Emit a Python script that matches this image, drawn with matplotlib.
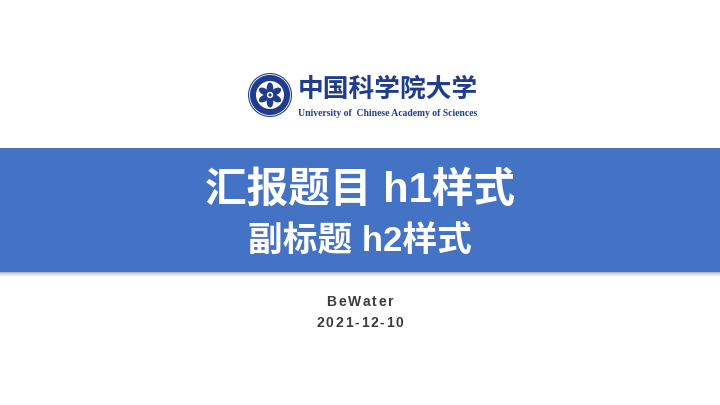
import math
import matplotlib.pyplot as plt
from matplotlib.patches import Rectangle, Circle, Ellipse
from matplotlib.textpath import TextPath
from matplotlib.font_manager import FontProperties

# slide texts
title = "汇报题目 h1样式"
subtitle = "副标题 h2样式"
author = "BeWater"
date = "2021-12-10"
logo_cn = "中国科学院大学"
logo_en = "University of  Chinese Academy of Sciences"

band_color = "#4472c4"
logo_color = "#1f3c8f"
text_gray = "#3a3a3a"

plt.rcParams['font.family'] = ['Liberation Sans', 'Noto Sans CJK SC', 'DejaVu Sans']

fig = plt.figure(figsize=(7.2, 4.05), dpi=100)
ax = fig.add_axes([0, 0, 1, 1])
ax.set_xlim(0, 720)
ax.set_ylim(405, 0)
ax.axis('off')


def spaced_text(x, y, s, size, spacing, **kw):
    # matplotlib has no letter-spacing, so lay out the glyphs one by one
    fp = FontProperties(family='Liberation Sans', weight='bold', size=size)
    bar = TextPath((0, 0), "|", prop=fp).vertices[:, 0].max()
    adv = []
    for c in s:
        w = TextPath((0, 0), c + "|", prop=fp).vertices[:, 0].max() - bar
        adv.append(w * 100 / 72.0)
    total = sum(adv) + spacing * (len(s) - 1)
    cx = x - total / 2
    for c, a in zip(s, adv):
        ax.text(cx, y, c, fontproperties=fp, ha='left', va='center', **kw)
        cx += a + spacing


# band with a soft shadow under it
shadow = ["#b8b8b8", "#cfcfcf", "#e0e0e0", "#eeeeee", "#f7f7f7"]
for i, col in enumerate(shadow):
    ax.add_patch(Rectangle((0, 272 + i), 720, 1, color=col, lw=0))
ax.add_patch(Rectangle((0, 148), 720, 124, color=band_color, lw=0))

ax.text(360, 191, title, color="white", fontsize=30, fontweight='bold',
        ha='center', va='center')
ax.text(360, 242, subtitle, color="white", fontsize=25, fontweight='bold',
        ha='center', va='center')

spaced_text(360, 302, author, 10, 1.8, color=text_gray)
spaced_text(360, 323, date, 10, 1.8, color=text_gray)

# logo emblem
cx, cy = 270, 95
ax.add_patch(Circle((cx, cy), 22, color=logo_color, lw=0))
ax.add_patch(Circle((cx, cy), 20.5, fill=False, ec="white", lw=0.6))
ax.add_patch(Circle((cx, cy), 14, color="white", lw=0))
for k in range(6):
    ang = 90 + k * 60
    ex = cx + 7 * math.cos(math.radians(ang))
    ey = cy - 7 * math.sin(math.radians(ang))
    ax.add_patch(Ellipse((ex, ey), 6.5, 11, angle=-(ang - 90), color=logo_color, lw=0))
ax.add_patch(Circle((cx, cy), 3.2, color="white", lw=0))
ax.add_patch(Circle((cx, cy), 1.6, color=logo_color, lw=0))

ax.text(298, 89, logo_cn, color=logo_color, fontsize=18.5, fontweight='bold',
        family='Noto Sans CJK SC', ha='left', va='center')
ax.text(298, 113, logo_en, color=logo_color, fontsize=6.9, fontweight='bold',
        family='Liberation Serif', ha='left', va='center')

fig.savefig("out.png", dpi=100, facecolor="white")
